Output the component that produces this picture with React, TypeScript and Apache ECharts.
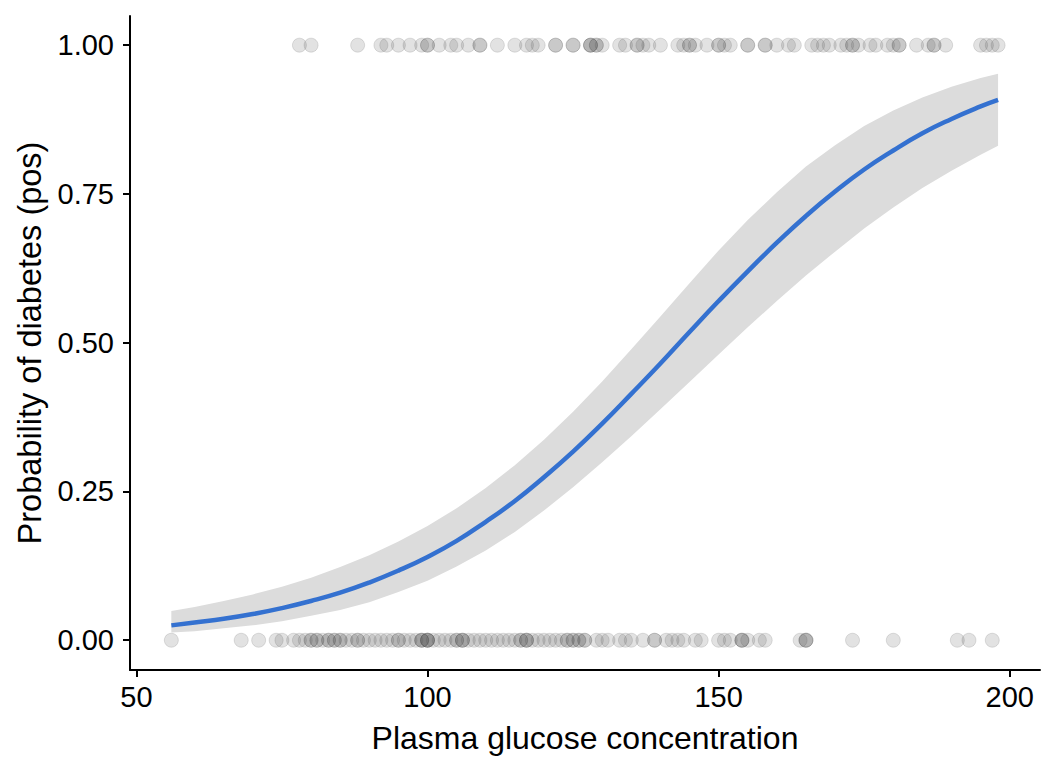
import React, { useEffect, useRef } from "react";
import * as echarts from "echarts";

// Observed glucose values, outcome negative (plotted at probability 0)
const negGlucose = [
  56, 68, 71, 74, 75, 77, 78, 79, 80, 80, 81, 81, 82, 83, 83, 84, 84, 85, 85, 86, 87, 88, 88, 89,
  90, 91, 92, 93, 94, 95, 95, 96, 97, 98, 99, 99, 99, 100, 100, 100, 100, 101, 102, 103, 104, 105,
  105, 106, 106, 106, 107, 108, 109, 110, 111, 112, 113, 114, 115, 116, 116, 117, 117, 117, 118,
  119, 120, 121, 122, 123, 124, 124, 125, 125, 126, 126, 127, 127, 129, 130, 131, 133, 134, 135,
  137, 139, 139, 141, 142, 143, 144, 146, 147, 150, 151, 152, 154, 154, 154, 155, 157, 158, 164,
  165, 165, 165, 173, 180, 191, 193, 197,
];
// Observed glucose values, outcome positive (plotted at probability 1)
const posGlucose = [
  78, 80, 88, 92, 93, 95, 97, 99, 100, 100, 102, 104, 105, 107, 109, 109, 112, 115, 117, 118, 119,
  122, 122, 125, 125, 128, 128, 128, 129, 129, 130, 133, 134, 136, 136, 137, 138, 140, 143, 144,
  145, 145, 146, 148, 150, 150, 151, 152, 155, 155, 158, 158, 160, 162, 163, 166, 167, 168, 169,
  171, 172, 173, 173, 174, 176, 177, 179, 180, 181, 181, 184, 186, 187, 187, 189, 195, 196, 197, 198,
];

// Fitted curve and its 95% band
const fitX = [56, 60, 65, 70, 75, 80, 85, 90, 95, 100, 105, 110, 115, 120, 125, 130, 135, 140, 145, 150, 155, 160, 165, 170, 175, 180, 185, 190, 195, 198];
const fitP = [0.025, 0.030, 0.036, 0.044, 0.054, 0.066, 0.080, 0.097, 0.117, 0.140, 0.167, 0.199, 0.234, 0.274, 0.317, 0.364, 0.414, 0.465, 0.518, 0.570, 0.620, 0.668, 0.713, 0.754, 0.791, 0.823, 0.852, 0.876, 0.897, 0.908];
const bandLower = [0.013, 0.015, 0.020, 0.025, 0.032, 0.041, 0.051, 0.064, 0.081, 0.100, 0.124, 0.151, 0.182, 0.218, 0.257, 0.299, 0.343, 0.388, 0.434, 0.480, 0.526, 0.570, 0.613, 0.653, 0.692, 0.727, 0.760, 0.789, 0.816, 0.831];
const bandUpper = [0.049, 0.056, 0.066, 0.077, 0.090, 0.105, 0.123, 0.143, 0.166, 0.192, 0.222, 0.256, 0.294, 0.337, 0.384, 0.435, 0.489, 0.544, 0.600, 0.655, 0.706, 0.753, 0.796, 0.832, 0.864, 0.890, 0.912, 0.930, 0.945, 0.952];

const yTicks = [0, 0.25, 0.5, 0.75, 1];
const xTicks = [50, 100, 150, 200];

export default function App() {
  const ref = useRef<HTMLDivElement>(null);
  useEffect(() => {
    if (!ref.current) return;
    const chart = echarts.init(ref.current, null, { renderer: "svg" });
    const font = "Liberation Sans, Arial, Helvetica, sans-serif";
    const pointStyle = {
      color: "rgba(77,77,77,0.2)",
      borderColor: "rgba(77,77,77,0.2)",
      borderWidth: 1,
    };
    chart.setOption({
      animation: false,
      backgroundColor: "#ffffff",
      grid: { left: 130, right: 16, top: 16, bottom: 98, containLabel: false, outerBoundsMode: "none" },
      xAxis: {
        type: "value",
        min: 48.9,
        max: 205.2,
        name: "Plasma glucose concentration",
        nameLocation: "middle",
        nameGap: 52,
        nameTextStyle: { color: "#000", fontSize: 32, fontFamily: font },
        axisLine: { show: true, onZero: false, lineStyle: { color: "#000", width: 2 } },
        axisTick: { show: true, length: 7, lineStyle: { color: "#000", width: 2 }, customValues: xTicks },
        axisLabel: { color: "#000", fontSize: 29, fontFamily: font, margin: 12, customValues: xTicks },
        splitLine: { show: false },
      },
      yAxis: {
        type: "value",
        min: -0.05,
        max: 1.049,
        name: "Probability of diabetes (pos)",
        nameLocation: "middle",
        nameGap: 84,
        nameTextStyle: { color: "#000", fontSize: 32.5, fontFamily: font },
        axisLine: { show: true, onZero: false, lineStyle: { color: "#000", width: 2 } },
        axisTick: { show: true, length: 7, lineStyle: { color: "#000", width: 2 }, customValues: yTicks },
        axisLabel: {
          color: "#000",
          fontSize: 29,
          fontFamily: font,
          margin: 16,
          customValues: yTicks,
          formatter: (v: number) => v.toFixed(2),
        },
        splitLine: { show: false },
      },
      series: [
        {
          type: "custom",
          silent: true,
          data: [[fitX[0], bandLower[0]]],
          renderItem: (params: any, api: any) => {
            const pts: number[][] = [];
            for (let i = 0; i < fitX.length; i++) pts.push(api.coord([fitX[i], bandUpper[i]]));
            for (let i = fitX.length - 1; i >= 0; i--) pts.push(api.coord([fitX[i], bandLower[i]]));
            return {
              type: "polygon",
              shape: { points: pts },
              style: { fill: "#dcdcdc" },
            };
          },
          z: 1,
        },
        {
          type: "scatter",
          data: negGlucose.map((g) => [g, 0]),
          symbolSize: 14,
          itemStyle: pointStyle,
          z: 2,
        },
        {
          type: "scatter",
          data: posGlucose.map((g) => [g, 1]),
          symbolSize: 14,
          itemStyle: pointStyle,
          z: 2,
        },
        {
          type: "line",
          data: fitX.map((x, i) => [x, fitP[i]]),
          smooth: true,
          symbol: "none",
          lineStyle: { color: "#3471d0", width: 4.5 },
          z: 5,
        },
      ],
    });
    return () => chart.dispose();
  }, []);
  return <div ref={ref} style={{ position: "absolute", left: 0, top: 0, width: 1056, height: 768 }} />;
}
